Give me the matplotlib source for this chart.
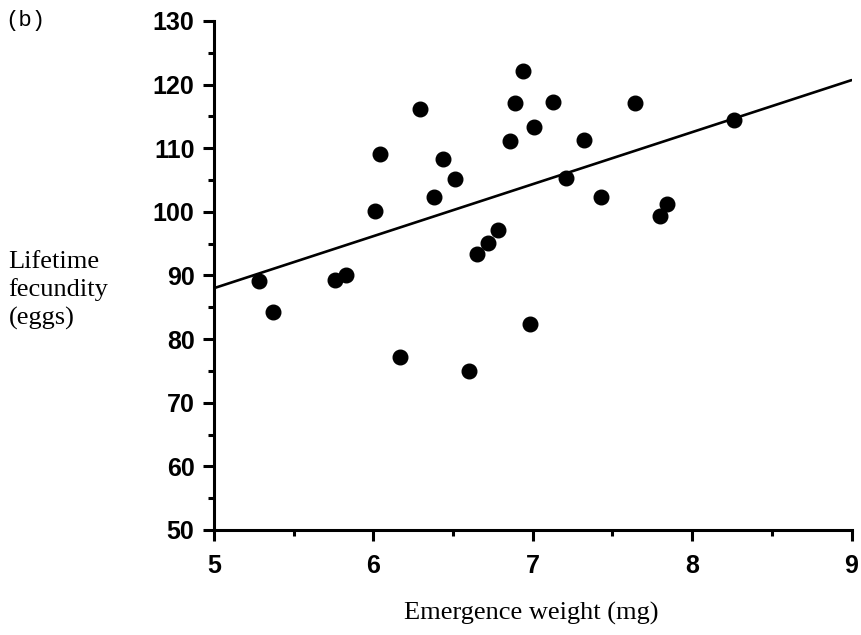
import numpy as np
import matplotlib
matplotlib.use("Agg")
import matplotlib.pyplot as plt
from matplotlib.ticker import MultipleLocator

# emergence weight (mg) vs lifetime fecundity (eggs)
weight = [5.28, 5.37, 5.76, 5.83, 6.01, 6.04, 6.17, 6.29, 6.38, 6.44,
          6.51, 6.60, 6.65, 6.72, 6.78, 6.86, 6.89, 6.94, 6.98, 7.01,
          7.13, 7.21, 7.32, 7.43, 7.64, 7.80, 7.84, 8.26]
eggs = [89.1, 84.2, 89.3, 90.1, 100.2, 109.1, 77.2, 116.2, 102.3, 108.3,
        105.2, 75.0, 93.3, 95.1, 97.2, 111.2, 117.1, 122.1, 82.3, 113.4,
        117.2, 105.3, 111.3, 102.4, 117.1, 99.4, 101.2, 114.4]

# fitted line end points
fit_x = [5, 9]
fit_y = [88.0, 120.7]

fig = plt.figure(figsize=(8.61, 6.35), dpi=100)
ax = fig.add_axes([0.2485, 0.1654, 0.7405, 0.8016])

ax.plot(fit_x, fit_y, color="black", lw=1.9, solid_capstyle="round")
ax.plot(weight, eggs, "o", color="black", ms=10.5, mec="black")

ax.set_xlim(5, 9)
ax.set_ylim(50, 130)
ax.xaxis.set_major_locator(MultipleLocator(1))
ax.xaxis.set_minor_locator(MultipleLocator(0.5))
ax.yaxis.set_major_locator(MultipleLocator(10))
ax.yaxis.set_minor_locator(MultipleLocator(5))

for s in ["top", "right"]:
    ax.spines[s].set_visible(False)
for s in ["left", "bottom"]:
    ax.spines[s].set_linewidth(2.2)

ax.tick_params(which="major", length=8, width=2.2)
ax.tick_params(which="minor", length=4, width=2.2)
ax.tick_params(axis="y", which="major", pad=6)
ax.tick_params(axis="x", which="major", pad=9)
for lab in ax.get_xticklabels() + ax.get_yticklabels():
    lab.set_family("Liberation Sans")
    lab.set_fontsize(18)
    lab.set_fontweight("bold")

fig.text(0.006, 0.985, "(b)", family="Liberation Mono", fontsize=16, va="top", ha="left")
fig.text(0.01, 0.543, "Lifetime\nfecundity\n(eggs)", family="Liberation Serif",
         fontsize=19, ha="left", va="center", linespacing=1.3)
fig.text(0.617, 0.024, "Emergence weight (mg)", family="Liberation Serif",
         fontsize=19, ha="center", va="baseline")

fig.savefig("out.png", dpi=100)
